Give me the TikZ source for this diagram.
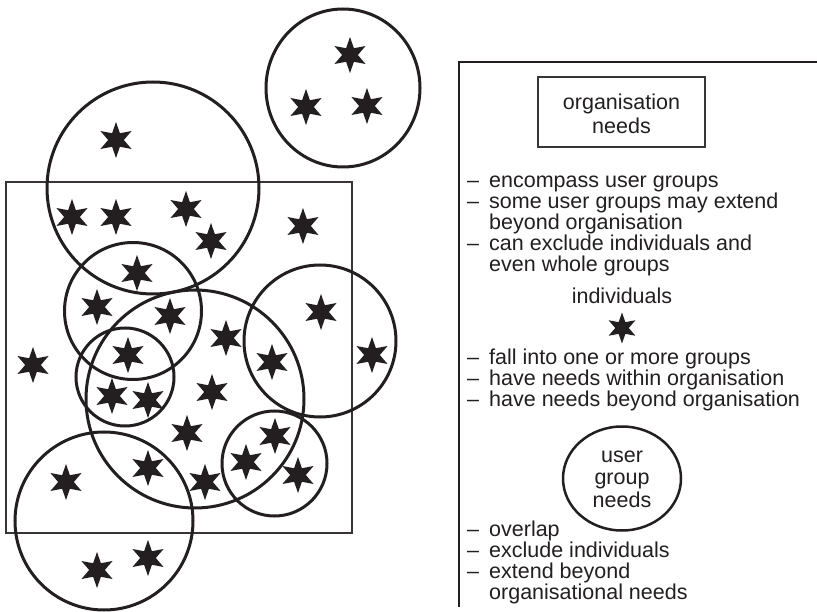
\documentclass[tikz,border=0pt]{standalone}
\usepackage{fontspec}
\setmainfont{Liberation Sans}
\usetikzlibrary{shapes.geometric}
\definecolor{ink}{HTML}{231F20}
\newcommand{\dashitem}[1]{\makebox[22pt][l]{\char"2013}#1}
\begin{document}
\begin{tikzpicture}[x=1pt,y=-1pt,
  indiv/.style={star, star points=6, star point ratio=2.3, minimum size=36pt, inner sep=0pt, fill=ink, draw=none},
  legindiv/.style={indiv, minimum size=31pt},
  grp/.style={draw=ink, line width=3pt},
  orgframe/.style={draw=ink!90, line width=2.8pt},
  legline/.style={draw=ink, line width=1.3pt},
  txt/.style={inner sep=0pt, anchor=base west, font=\fontsize{21.5}{21.7}\selectfont, text=ink},
  ctxt/.style={inner sep=0pt, anchor=base, font=\fontsize{21.5}{21.7}\selectfont, text=ink}]
\fill[white] (0,0) rectangle (817,612);
\useasboundingbox (0,0) rectangle (817,612);

% organisation
\draw[orgframe] (6,182) rectangle (352,533);

% user groups
\draw[grp] (343,88) ellipse [x radius=77, y radius=79];
\draw[grp] (153,188) circle [radius=106];
\draw[grp] (133,311) circle [radius=68.5];
\draw[grp] (195,399) circle [radius=109];
\draw[grp] (320,341) circle [radius=76];
\draw[grp] (125,377) circle [radius=49];
\draw[grp] (274.5,463.5) circle [radius=52.5];
\draw[grp] (104,521) circle [radius=89];

% individuals
\node[indiv] (s1) at (350,55) {};
\node[indiv] (s2) at (306,107) {};
\node[indiv] (s3) at (367,106) {};
\node[indiv] (s4) at (116,140) {};
\node[indiv] (s5) at (72,217) {};
\node[indiv] (s6) at (116,217) {};
\node[indiv] (s7) at (186,209) {};
\node[indiv] (s8) at (211,241) {};
\node[indiv] (s9) at (303,226) {};
\node[indiv] (s10) at (137,273) {};
\node[indiv] (s11) at (97,307) {};
\node[indiv] (s12) at (170,316) {};
\node[indiv] (s13) at (321,312) {};
\node[indiv] (s14) at (372,355) {};
\node[indiv] (s15) at (272,362) {};
\node[indiv] (s16) at (226,338) {};
\node[indiv] (s17) at (33,365) {};
\node[indiv] (s18) at (128,355) {};
\node[indiv] (s19) at (112,396) {};
\node[indiv] (s20) at (148,400) {};
\node[indiv] (s21) at (212,392) {};
\node[indiv] (s22) at (187,433) {};
\node[indiv] (s23) at (148,468) {};
\node[indiv] (s24) at (205,482) {};
\node[indiv] (s25) at (275,436) {};
\node[indiv] (s26) at (246,462) {};
\node[indiv] (s27) at (298,475) {};
\node[indiv] (s28) at (66,482) {};
\node[indiv] (s29) at (97,570) {};
\node[indiv] (s30) at (148,558) {};

% legend frame
\coordinate (ltop) at (817,62);
\coordinate (lcorner) at (459,62);
\coordinate (lbot) at (459,607);
\draw[legline] (ltop) -- (lcorner) -- (lbot);

% legend: organisation
\draw[orgframe, line width=2.6pt] (538,77) rectangle (705,147);
\node[ctxt] (org1) at (621.5,110) {organisation};
\node[ctxt] (org2) at (621.5,134) {needs};
\node[txt] (o1) at (467,188) {\dashitem{encompass user groups}};
\node[txt] (o2) at (467,208.8) {\dashitem{some user groups may extend}};
\node[txt] (o3) at (489,229.6) {beyond organisation};
\node[txt] (o4) at (467,250.4) {\dashitem{can exclude individuals and}};
\node[txt] (o5) at (489,271.2) {even whole groups};

% legend: individuals
\node[ctxt] (ind) at (622,304) {individuals};
\node[legindiv] (legstar) at (622,328) {};
\node[txt] (i1) at (467,364.5) {\dashitem{fall into one or more groups}};
\node[txt] (i2) at (467,385.5) {\dashitem{have needs within organisation}};
\node[txt] (i3) at (467,406.5) {\dashitem{have needs beyond organisation}};

% legend: user group needs
\draw[grp, line width=2.5pt] (622,478.5) ellipse [x radius=59, y radius=52];
\node[ctxt] (ug1) at (622,462) {user};
\node[ctxt] (ug2) at (622,484.5) {group};
\node[ctxt] (ug3) at (622,507.5) {needs};
\node[txt] (u1) at (467,536) {\dashitem{overlap}};
\node[txt] (u2) at (467,557) {\dashitem{exclude individuals}};
\node[txt] (u3) at (467,578) {\dashitem{extend beyond}};
\node[txt] (u4) at (489,599) {organisational needs};
\end{tikzpicture}
\end{document}
